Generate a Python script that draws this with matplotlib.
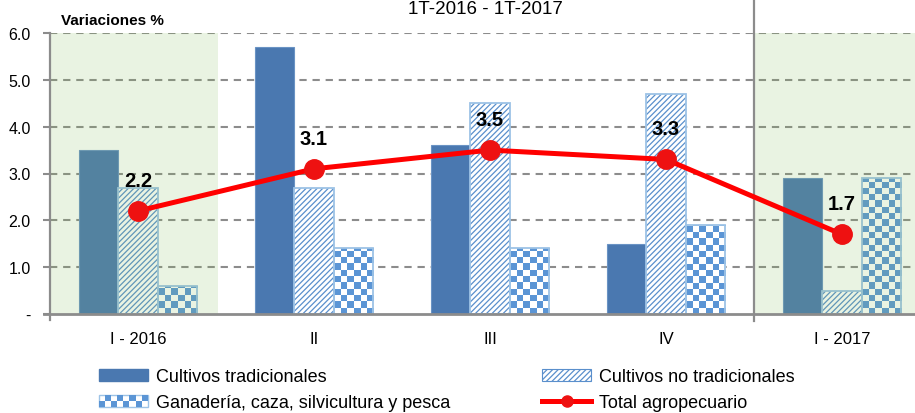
import matplotlib
matplotlib.use("Agg")
import matplotlib.pyplot as plt
import numpy as np
from matplotlib.patches import Patch, Rectangle
from matplotlib.lines import Line2D
from matplotlib.legend_handler import HandlerBase
from matplotlib.colors import ListedColormap

plt.rcParams['font.family'] = ['Liberation Sans', 'DejaVu Sans']
plt.rcParams['hatch.linewidth'] = 0.9

# ---- data ----
categories = ["I - 2016", "II", "III", "IV", "I - 2017"]
cultivos_trad = [3.5, 5.7, 3.6, 1.5, 2.9]
cultivos_no_trad = [2.7, 2.7, 4.5, 4.7, 0.5]
ganaderia = [0.6, 1.4, 1.4, 1.9, 2.9]
total = [2.2, 3.1, 3.5, 3.3, 1.7]
y_ticks = [0, 1, 2, 3, 4, 5, 6]
y_ticklabels = ["-", "1.0", "2.0", "3.0", "4.0", "5.0", "6.0"]
series_names = ["Cultivos tradicionales", "Ganadería, caza, silvicultura y pesca",
                "Cultivos no tradicionales", "Total agropecuario"]
title = "1T-2016 - 1T-2017"
ylabel = "Variaciones %"

# ---- style ----
c_trad = "#4A78B0"
c_hatch = "#5A8FCC"
c_edge = "#9DC3E6"
c_check = "#5B95D5"
c_line = "#FF0000"
c_grid = "#8C8C8C"
c_axis = "#8C8C8C"

W, H = 915, 414
fig = plt.figure(figsize=(W / 100, H / 100), dpi=100)
ax = fig.add_axes([50 / W, 99 / H, 880 / W, 281 / H])
x = np.arange(len(categories))
bw = 0.224
ax.set_xlim(-0.5, len(categories) - 0.5)
ax.set_ylim(0, 6)

# grid
for yv in y_ticks[1:]:
    ax.axhline(yv, color=c_grid, lw=1.5, ls=(0, (3.5, 2.8)), zorder=0.5)

# bars
ax.bar(x - bw, cultivos_trad, bw, color=c_trad, edgecolor="#6A93C4", lw=0.8, zorder=2)
ax.bar(x, cultivos_no_trad, bw, color="white", edgecolor=c_hatch, lw=0, hatch="//////", zorder=2)
ax.bar(x, cultivos_no_trad, bw, fill=False, edgecolor=c_edge, lw=1.3, zorder=2.1)
gbars = ax.bar(x + bw, ganaderia, bw, color="white", lw=0, zorder=1.9)
ax.bar(x + bw, ganaderia, bw, fill=False, edgecolor=c_edge, lw=1.3, zorder=2.1)

# checkerboard texture for ganaderia bars
cmap = ListedColormap(["#FFFFFF", c_check])
px_per_x = ax.bbox.width / (ax.get_xlim()[1] - ax.get_xlim()[0])
px_per_y = ax.bbox.height / (ax.get_ylim()[1] - ax.get_ylim()[0])
cell = 6.3
for xi, v, b in zip(x + bw, ganaderia, gbars):
    nx = max(1, int(round(bw * px_per_x / cell)))
    ny = max(1, int(np.ceil(v * px_per_y / cell)))
    arr = (np.indices((ny, nx)).sum(axis=0) % 2).astype(float)
    im = ax.imshow(arr, cmap=cmap, vmin=0, vmax=1, interpolation="nearest",
                   extent=[xi - bw / 2, xi + bw / 2, 0, ny * cell / px_per_y],
                   origin="lower", aspect="auto", zorder=2)
    im.set_clip_path(b)
ax.set_xlim(-0.5, len(categories) - 0.5)
ax.set_ylim(0, 6)

# green shaded periods (overlay)
ax.axvspan(-0.5, 0.455, ymin=0, ymax=1, color="#82B955", alpha=0.17, lw=0, zorder=3)
ax.axvspan(3.5, 4.5, ymin=0, ymax=1, color="#82B955", alpha=0.17, lw=0, zorder=3)
ax.axvline(3.5, ymin=-0.025, ymax=1.12, color=c_axis, lw=1.6, clip_on=False, zorder=3.5)

# total line
ax.plot(x, total, color=c_line, lw=3.6, marker="o", ms=14, mfc="#EE1111", mec="#EE1111",
        zorder=4, solid_capstyle="round")
for xi, v in zip(x, total):
    ax.annotate(f"{v:.1f}", (xi, v), xytext=(0, 22), textcoords="offset points",
                ha="center", va="center", fontsize=14.5, fontweight="bold", zorder=5)

# axes styling
for s in ["top", "right"]:
    ax.spines[s].set_visible(False)
ax.spines["left"].set_color(c_axis)
ax.spines["left"].set_linewidth(1.6)
ax.spines["left"].set_bounds(-0.12, 6)
ax.spines["bottom"].set_color(c_axis)
ax.spines["bottom"].set_linewidth(2)
ax.spines["bottom"].set_bounds(-0.5 - 6 / px_per_x, 4.5)
ax.spines["left"].set_zorder(3.6)
ax.spines["bottom"].set_zorder(3.6)

ax.set_yticks(y_ticks)
ax.set_yticklabels(y_ticklabels, fontsize=11.5)
ax.tick_params(axis="y", length=5, width=1.5, color=c_axis, pad=9)
ax.set_xticks(x)
ax.set_xticklabels(categories, fontsize=12)
ax.tick_params(axis="x", length=0, pad=12)

fig.text(61 / W, 1 - 25 / H, ylabel, fontsize=11, fontweight="bold", ha="left", va="baseline")
fig.text(485 / W, 1 - 14 / H, title, fontsize=13.5, ha="center", va="baseline")


# legend
class CheckerHandler(HandlerBase):
    def create_artists(self, legend, orig_handle, xdescent, ydescent, width, height,
                       fontsize, trans):
        arts = [Rectangle((-xdescent, -ydescent), width, height, facecolor="white",
                          edgecolor=c_edge, lw=1, transform=trans)]
        nx, ny = 8, 2
        cw, ch = width / nx, height / ny
        for i in range(nx):
            for j in range(ny):
                if (i + j) % 2 == 0:
                    arts.append(Rectangle((-xdescent + i * cw, -ydescent + j * ch), cw, ch,
                                          facecolor=c_check, lw=0, transform=trans))
        return arts


h_trad = Patch(facecolor=c_trad, edgecolor=c_trad)
h_gan = Patch(facecolor="white")
h_notrad = Patch(facecolor="white", edgecolor=c_hatch, hatch="//////", lw=0.8)
h_total = Line2D([], [], color=c_line, lw=3.6, marker="o", ms=8, mfc="#EE1111", mec="#EE1111")
fig.legend([h_trad, h_gan, h_notrad, h_total], series_names, ncol=2,
           loc="upper left", bbox_to_anchor=(99 / W, 1 - 369 / H), frameon=False,
           fontsize=13, handlelength=2.7, handleheight=0.65, handletextpad=0.45,
           columnspacing=5.1, labelspacing=0.5, borderpad=0, borderaxespad=0,
           handler_map={h_gan: CheckerHandler()})

fig.savefig("out.png", dpi=100)
